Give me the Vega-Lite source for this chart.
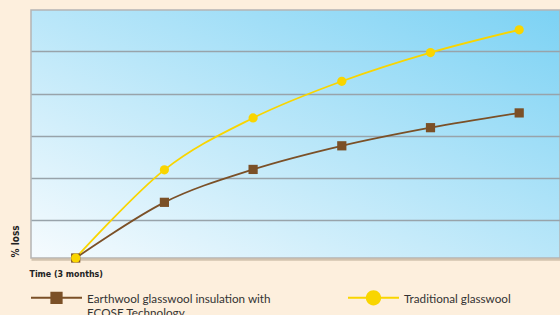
{
  "$schema": "https://vega.github.io/schema/vega-lite/v6.json",
  "width": 529,
  "height": 248,
  "autosize": {"type": "none"},
  "padding": {"left": 31, "top": 10, "right": 0, "bottom": 57},
  "background": "#fdefdd",
  "config": {
    "view": {
      "fill": {"gradient": "linear", "x1": 0, "y1": 1, "x2": 1, "y2": 0,
        "stops": [{"offset": 0, "color": "#f6fbfe"}, {"offset": 1, "color": "#7cd2f4"}]},
      "stroke": "#b4b4b4",
      "strokeWidth": 1.5
    },
    "font": "Lato"
  },
  "data": {
    "values": [
      {"t": 0, "v": 0.1, "series": "Earthwool glasswool insulation with ECOSE Technology"},
      {"t": 1, "v": 1.42, "series": "Earthwool glasswool insulation with ECOSE Technology"},
      {"t": 2, "v": 2.2, "series": "Earthwool glasswool insulation with ECOSE Technology"},
      {"t": 3, "v": 2.76, "series": "Earthwool glasswool insulation with ECOSE Technology"},
      {"t": 4, "v": 3.19, "series": "Earthwool glasswool insulation with ECOSE Technology"},
      {"t": 5, "v": 3.54, "series": "Earthwool glasswool insulation with ECOSE Technology"},
      {"t": 0, "v": 0.1, "series": "Traditional glasswool"},
      {"t": 1, "v": 2.19, "series": "Traditional glasswool"},
      {"t": 2, "v": 3.42, "series": "Traditional glasswool"},
      {"t": 3, "v": 4.29, "series": "Traditional glasswool"},
      {"t": 4, "v": 4.97, "series": "Traditional glasswool"},
      {"t": 5, "v": 5.51, "series": "Traditional glasswool"}
    ]
  },
  "encoding": {
    "x": {
      "field": "t", "type": "quantitative",
      "scale": {"domain": [-0.504, 5.46], "nice": false, "zero": false},
      "axis": {
        "title": "Time (3 months)", "labels": false, "ticks": false, "grid": false,
        "domainColor": "#c8b8a4", "domainWidth": 2.5, "domainOpacity": 0.8, "offset": 1,
        "titleX": -2, "titleY": 14, "titleAlign": "left", "titleBaseline": "middle",
        "titleFont": "DejaVu Sans Condensed, Liberation Sans, sans-serif", "titleFontSize": 8.8, "titleFontWeight": "bold", "titleColor": "#222222"
      }
    },
    "y": {
      "field": "v", "type": "quantitative",
      "scale": {"domain": [0.1, 5.98], "nice": false, "zero": false},
      "axis": {
        "title": "% loss", "values": [1, 2, 3, 4, 5], "labels": false, "ticks": false, "domain": false,
        "grid": true, "gridColor": "#98a3aa", "gridWidth": 1.5,
        "titleX": -16, "titleY": 247, "titleAngle": -90, "titleAlign": "left", "titleBaseline": "middle",
        "titleFont": "DejaVu Sans Condensed, Liberation Sans, sans-serif", "titleFontSize": 10, "titleFontWeight": "bold", "titleColor": "#222222"
      }
    },
    "color": {
      "field": "series", "type": "nominal",
      "scale": {
        "domain": ["Earthwool glasswool insulation with ECOSE Technology", "Traditional glasswool"],
        "range": ["#7b5027", "#f9d500"]
      },
      "legend": {
        "orient": "none", "legendX": 0, "legendY": 262,
        "direction": "horizontal", "columns": 2, "columnPadding": 77,
        "title": null, "symbolSize": 2601, "symbolStrokeWidth": 0,
        "labelFont": "Lato", "labelFontSize": 11.7, "labelColor": "#333333", "labelLimit": 400,
        "labelBaseline": "middle", "labelOffset": 5,
        "labelExpr": "datum.value == 'Traditional glasswool' ? ['Traditional glasswool', ' '] : ['Earthwool glasswool insulation with', 'ECOSE Technology']",
        "encode": {
          "symbols": {"update": {
            "shape": {"signal": "datum.value == 'Traditional glasswool' ? 'M-1,-0.04H1V0.04H-1Z M-0.3,0A0.3,0.3 0 1,1 0.3,0A0.3,0.3 0 1,1 -0.3,0Z' : 'M-1,-0.04H1V0.04H-1Z M-0.24,-0.24H0.24V0.24H-0.24Z'"},
            "fill": {"scale": "color", "field": "value"},
            "opacity": {"value": 1},
            "fillOpacity": {"value": 1},
            "strokeWidth": {"value": 0}
          }},
          "labels": {"update": {"dy": {"value": 1.5}}}
        }
      }
    }
  },
  "layer": [
    {"mark": {"type": "line", "interpolate": "cardinal", "strokeWidth": 1.8}},
    {
      "transform": [{"filter": "datum.series == 'Earthwool glasswool insulation with ECOSE Technology'"}],
      "mark": {"type": "point", "shape": "square", "filled": true, "opacity": 1, "clip": false, "size": 85}
    },
    {
      "transform": [{"filter": "datum.series == 'Traditional glasswool'"}],
      "mark": {"type": "point", "shape": "circle", "filled": true, "opacity": 1, "clip": false, "size": 85}
    }
  ]
}
